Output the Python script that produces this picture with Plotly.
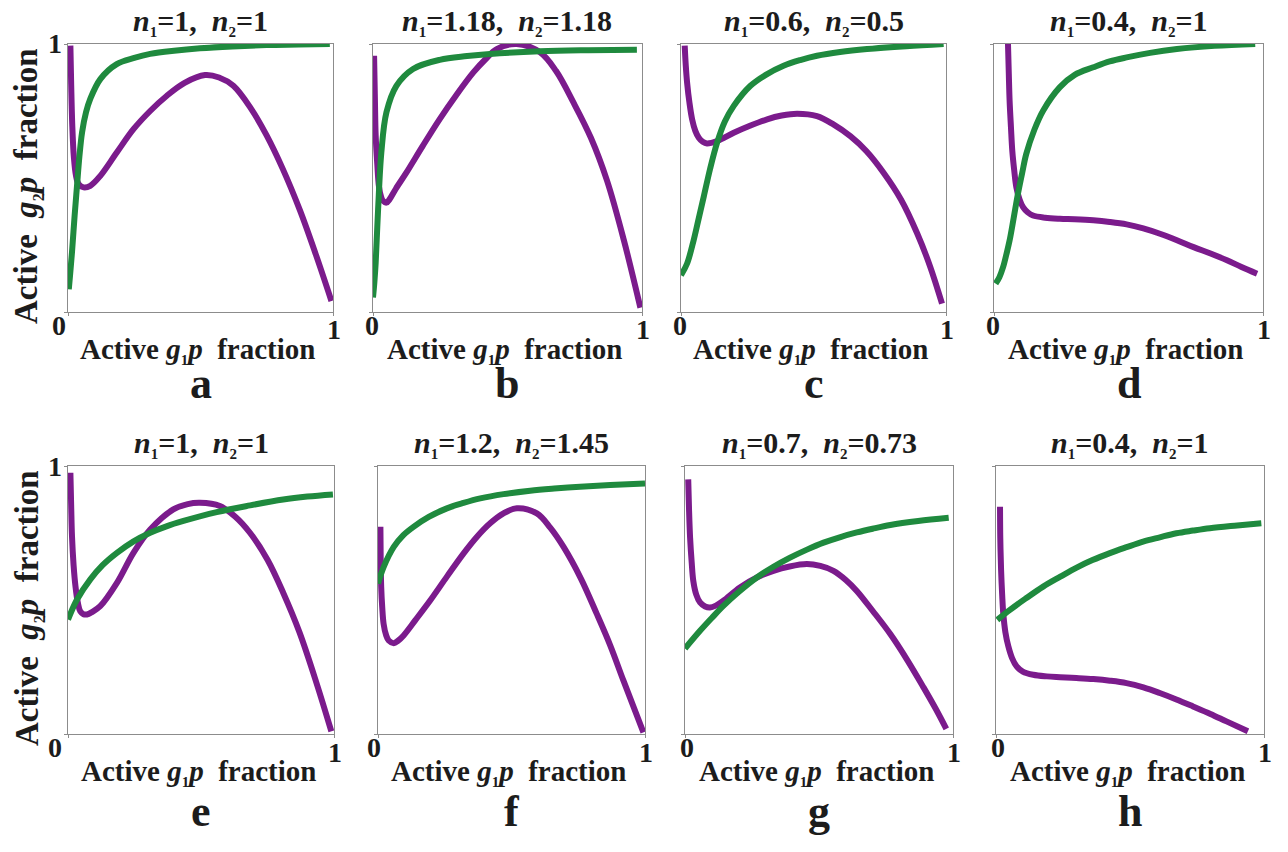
import plotly.graph_objects as go

# ---------------- data ----------------
N1 = ["1", "1.18", "0.6", "0.4", "1", "1.2", "0.7", "0.4"]
N2 = ["1", "1.18", "0.5", "1", "1", "1.45", "0.73", "1"]
LETTERS = ["a", "b", "c", "d", "e", "f", "g", "h"]
X_TICKS = [0, 1]
X_TICKTEXT = ["0", "1"]
Y_TICKTEXT_TOP = "1"

# panel a
PA_X = [0.009, 0.012, 0.016, 0.022, 0.03, 0.04, 0.059, 0.084, 0.122, 0.184, 0.247, 0.31, 0.373, 0.44, 0.517, 0.57, 0.624, 0.69, 0.749, 0.81, 0.875, 0.935, 0.994]
PA_Y = [0.994, 0.85, 0.7, 0.58, 0.51, 0.477, 0.465, 0.471, 0.508, 0.595, 0.682, 0.75, 0.807, 0.855, 0.884, 0.875, 0.844, 0.76, 0.66, 0.535, 0.38, 0.215, 0.041]
GA_X = [0.003, 0.008, 0.015, 0.025, 0.034, 0.043, 0.053, 0.068, 0.084, 0.122, 0.184, 0.25, 0.31, 0.4, 0.498, 0.62, 0.749, 0.87, 0.988]
GA_Y = [0.085, 0.14, 0.222, 0.36, 0.471, 0.58, 0.67, 0.745, 0.795, 0.869, 0.925, 0.948, 0.963, 0.975, 0.984, 0.991, 0.996, 0.998, 1.0]
# panel b
PB_X = [0.004, 0.007, 0.01, 0.016, 0.022, 0.03, 0.037, 0.05, 0.062, 0.085, 0.124, 0.185, 0.248, 0.31, 0.373, 0.42, 0.46, 0.534, 0.621, 0.68, 0.745, 0.81, 0.87, 0.932, 0.994]
PB_Y = [0.956, 0.8, 0.657, 0.55, 0.47, 0.43, 0.415, 0.408, 0.421, 0.46, 0.52, 0.62, 0.72, 0.81, 0.894, 0.945, 0.981, 1.0, 0.969, 0.9, 0.782, 0.65, 0.49, 0.27, 0.016]
GB_X = [0.0, 0.005, 0.01, 0.019, 0.031, 0.05, 0.087, 0.149, 0.248, 0.35, 0.435, 0.621, 0.8, 0.981]
GB_Y = [0.054, 0.11, 0.184, 0.384, 0.595, 0.745, 0.844, 0.907, 0.941, 0.955, 0.963, 0.973, 0.977, 0.979]
# panel c
PC_X = [0.014, 0.018, 0.023, 0.032, 0.042, 0.054, 0.067, 0.082, 0.098, 0.136, 0.199, 0.26, 0.325, 0.38, 0.438, 0.513, 0.575, 0.639, 0.70, 0.765, 0.83, 0.891, 0.94, 0.985]
PC_Y = [0.994, 0.92, 0.856, 0.78, 0.719, 0.676, 0.65, 0.635, 0.629, 0.638, 0.669, 0.695, 0.719, 0.733, 0.74, 0.731, 0.7, 0.656, 0.6, 0.519, 0.42, 0.294, 0.17, 0.031]
GC_X = [0.0, 0.023, 0.048, 0.067, 0.086, 0.11, 0.136, 0.165, 0.199, 0.262, 0.32, 0.387, 0.45, 0.513, 0.6, 0.702, 0.85, 0.991]
GC_Y = [0.1375, 0.181, 0.269, 0.35, 0.431, 0.535, 0.631, 0.71, 0.769, 0.844, 0.885, 0.919, 0.94, 0.956, 0.97, 0.981, 0.992, 1.0]
# panel d
PD_X = [0.052, 0.055, 0.058, 0.063, 0.068, 0.075, 0.083, 0.095, 0.108, 0.125, 0.145, 0.19, 0.245, 0.3, 0.369, 0.43, 0.493, 0.555, 0.617, 0.68, 0.742, 0.805, 0.866, 0.92, 0.978]
PD_Y = [1.0, 0.89, 0.789, 0.69, 0.602, 0.53, 0.466, 0.42, 0.391, 0.372, 0.36, 0.352, 0.348, 0.346, 0.342, 0.336, 0.327, 0.312, 0.292, 0.268, 0.242, 0.218, 0.193, 0.168, 0.143]
GD_X = [0.006, 0.02, 0.034, 0.046, 0.058, 0.073, 0.089, 0.105, 0.12, 0.15, 0.183, 0.245, 0.3, 0.369, 0.43, 0.493, 0.58, 0.68, 0.82, 0.971]
GD_Y = [0.106, 0.13, 0.168, 0.215, 0.267, 0.35, 0.441, 0.52, 0.59, 0.68, 0.752, 0.839, 0.885, 0.913, 0.935, 0.95, 0.967, 0.981, 0.993, 1.0]
# panel e
PE_X = [0.009, 0.012, 0.015, 0.021, 0.028, 0.037, 0.046, 0.058, 0.071, 0.09, 0.121, 0.184, 0.246, 0.309, 0.396, 0.45, 0.496, 0.571, 0.63, 0.684, 0.75, 0.809, 0.87, 0.934, 0.99]
PE_Y = [0.975, 0.85, 0.738, 0.63, 0.552, 0.49, 0.458, 0.447, 0.446, 0.455, 0.477, 0.564, 0.676, 0.763, 0.838, 0.858, 0.863, 0.851, 0.81, 0.751, 0.65, 0.527, 0.38, 0.191, 0.01]
GE_X = [0.0, 0.034, 0.084, 0.13, 0.184, 0.245, 0.309, 0.37, 0.434, 0.559, 0.684, 0.809, 0.9, 0.996]
GE_Y = [0.427, 0.502, 0.577, 0.63, 0.676, 0.718, 0.751, 0.775, 0.795, 0.828, 0.853, 0.875, 0.886, 0.894]
# panel f
PF_X = [0.009, 0.01, 0.012, 0.016, 0.021, 0.03, 0.04, 0.059, 0.075, 0.096, 0.14, 0.196, 0.26, 0.32, 0.37, 0.42, 0.47, 0.52, 0.595, 0.645, 0.695, 0.76, 0.819, 0.87, 0.919, 0.994]
PF_Y = [0.773, 0.66, 0.549, 0.47, 0.411, 0.37, 0.349, 0.339, 0.348, 0.368, 0.425, 0.499, 0.59, 0.673, 0.735, 0.786, 0.823, 0.842, 0.823, 0.77, 0.698, 0.58, 0.449, 0.33, 0.2, 0.006]
GF_X = [0.0, 0.021, 0.059, 0.095, 0.133, 0.19, 0.258, 0.32, 0.383, 0.47, 0.57, 0.66, 0.757, 0.87, 1.0]
GF_Y = [0.561, 0.623, 0.698, 0.742, 0.773, 0.81, 0.842, 0.862, 0.879, 0.895, 0.908, 0.916, 0.923, 0.929, 0.935]
# panel g
PG_X = [0.012, 0.015, 0.019, 0.025, 0.031, 0.042, 0.056, 0.075, 0.093, 0.115, 0.143, 0.205, 0.27, 0.33, 0.39, 0.455, 0.505, 0.554, 0.6, 0.641, 0.7, 0.766, 0.83, 0.89, 0.935, 0.975]
PG_Y = [0.95, 0.84, 0.733, 0.64, 0.571, 0.52, 0.491, 0.476, 0.472, 0.479, 0.497, 0.547, 0.585, 0.609, 0.625, 0.634, 0.627, 0.609, 0.575, 0.534, 0.46, 0.373, 0.275, 0.174, 0.095, 0.019]
GG_X = [0.0, 0.056, 0.1, 0.143, 0.2, 0.268, 0.33, 0.392, 0.455, 0.517, 0.58, 0.641, 0.7, 0.766, 0.87, 0.984]
GG_Y = [0.319, 0.385, 0.433, 0.478, 0.53, 0.584, 0.624, 0.658, 0.688, 0.714, 0.735, 0.752, 0.766, 0.78, 0.795, 0.807]
# panel h
PH_X = [0.015, 0.016, 0.019, 0.023, 0.027, 0.035, 0.046, 0.06, 0.077, 0.1, 0.139, 0.19, 0.239, 0.3, 0.363, 0.425, 0.487, 0.55, 0.611, 0.673, 0.735, 0.8, 0.86, 0.94]
PH_Y = [0.848, 0.73, 0.612, 0.52, 0.451, 0.38, 0.327, 0.283, 0.252, 0.233, 0.221, 0.215, 0.212, 0.209, 0.205, 0.199, 0.19, 0.174, 0.153, 0.129, 0.103, 0.075, 0.047, 0.01]
GH_X = [0.005, 0.052, 0.11, 0.176, 0.24, 0.301, 0.36, 0.425, 0.487, 0.549, 0.611, 0.673, 0.735, 0.798, 0.9, 0.99]
GH_Y = [0.426, 0.463, 0.505, 0.55, 0.587, 0.621, 0.649, 0.675, 0.697, 0.718, 0.734, 0.749, 0.759, 0.768, 0.778, 0.786]

PURPLE = [(PA_X, PA_Y), (PB_X, PB_Y), (PC_X, PC_Y), (PD_X, PD_Y),
          (PE_X, PE_Y), (PF_X, PF_Y), (PG_X, PG_Y), (PH_X, PH_Y)]
GREEN = [(GA_X, GA_Y), (GB_X, GB_Y), (GC_X, GC_Y), (GD_X, GD_Y),
         (GE_X, GE_Y), (GF_X, GF_Y), (GG_X, GG_Y), (GH_X, GH_Y)]

# ---------------- layout geometry (pixels) & styles ----------------
W, H = 1288, 852
BOX_X = [(68, 333), (373, 642), (681, 946), (994, 1263),
         (68, 334), (378, 645), (685, 953), (996, 1264)]
BOX_Y = [(44, 312)] * 4 + [(466, 734)] * 4
ZERO_DX = [-9, -1, -1, -1, -13, -4, 2, 2]
LETTER_BASE = [410, 410, 410, 410, 838, 838, 838, 838]

C_PURPLE = "#7b1b8c"
C_GREEN = "#1f8a3e"
C_TEXT = "#1c1c1c"
FONT = "Liberation Serif"


def sub(t, px):
    return '<sub><span style="font-size:%dpx">%s</span></sub>' % (px, t)


def title_text(n1, n2):
    sp = "\u00a0\u00a0"
    return "<b><i>n</i>%s=%s,%s<i>n</i>%s=%s</b>" % (sub("1", 15), n1, sp, sub("2", 15), n2)


X_LABEL = "<b>Active\u00a0<i>g</i>%s<i>p</i>\u00a0\u00a0fraction</b>" % sub("1", 15)
Y_LABEL = "<b>Active\u00a0\u00a0<i>g</i>%s<i>p</i>\u00a0\u00a0fraction</b>" % sub("2", 16)


def fx(px):
    return px / W


def fy(py):
    return 1 - py / H


def ann(text, x, y, size, xanchor="center", yanchor="middle", angle=0):
    return dict(text=text, x=fx(x), y=fy(y), xref="paper", yref="paper",
                showarrow=False, xanchor=xanchor, yanchor=yanchor, textangle=angle,
                font=dict(family=FONT, size=size, color=C_TEXT))


fig = go.Figure()
layout = dict(width=W, height=H, margin=dict(l=0, r=0, t=0, b=0),
              paper_bgcolor="white", plot_bgcolor="white", showlegend=False)
annotations = []

for i in range(8):
    k = "" if i == 0 else str(i + 1)
    x0, x1 = BOX_X[i]
    y0, y1 = BOX_Y[i]
    axis_style = dict(range=[0, 1], showgrid=False, zeroline=False, showline=True,
                      mirror=True, linecolor="#8c8c8c", linewidth=1, ticks="outside",
                      ticklen=3, tickcolor="#8c8c8c", tickvals=X_TICKS,
                      showticklabels=False, fixedrange=True)
    layout["xaxis" + k] = dict(domain=[fx(x0), fx(x1)], anchor="y" + k, **axis_style)
    layout["yaxis" + k] = dict(domain=[fy(y1), fy(y0)], anchor="x" + k, **axis_style)

    px_, py_ = PURPLE[i]
    gx_, gy_ = GREEN[i]
    fig.add_trace(go.Scatter(x=px_, y=py_, mode="lines", xaxis="x" + k, yaxis="y" + k,
                             line=dict(color=C_PURPLE, width=6, shape="spline", smoothing=1.0),
                             cliponaxis=False, hoverinfo="skip"))
    fig.add_trace(go.Scatter(x=gx_, y=gy_, mode="lines", xaxis="x" + k, yaxis="y" + k,
                             line=dict(color=C_GREEN, width=6, shape="spline", smoothing=1.0),
                             cliponaxis=False, hoverinfo="skip"))

    cx = (x0 + x1) / 2
    annotations.append(ann(title_text(N1[i], N2[i]), cx, y0 - 22, 30))
    annotations.append(ann(X_LABEL, cx - 3, y1 + 38, 29))
    annotations.append(ann("<b>" + LETTERS[i] + "</b>", cx, LETTER_BASE[i], 44,
                           yanchor="bottom"))
    # tick labels of the x axis
    annotations.append(ann("<b>" + X_TICKTEXT[0] + "</b>", x0 + ZERO_DX[i], y1 + 13, 28))
    annotations.append(ann("<b>" + X_TICKTEXT[1] + "</b>", x1 + 1, y1 + 18, 28))
    if i in (0, 4):
        annotations.append(ann("<b>" + Y_TICKTEXT_TOP + "</b>", x0 - 13, y0, 28))
        annotations.append(ann(Y_LABEL, 28, (y0 + y1) / 2 + 8, 33, angle=-90))

layout["annotations"] = annotations
fig.update_layout(**layout)
fig.write_html("out.html")
